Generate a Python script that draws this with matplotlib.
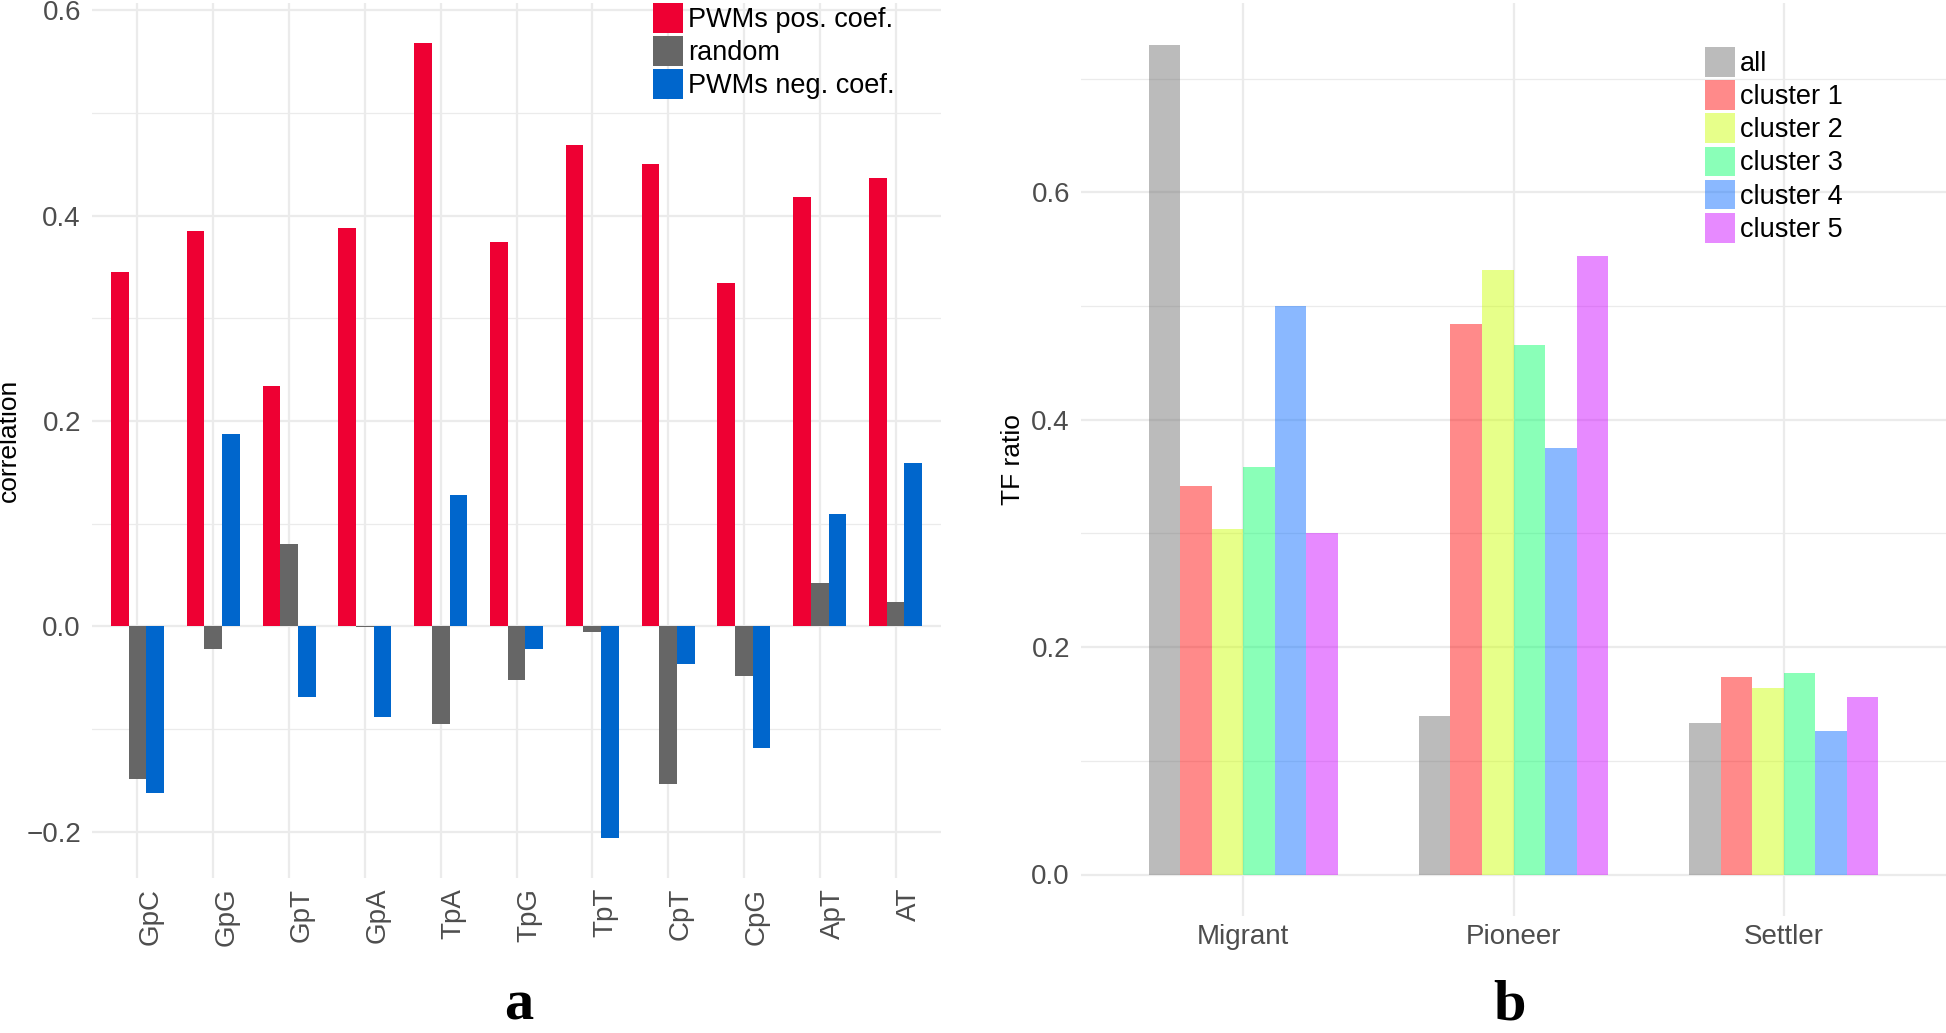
import numpy as np
import matplotlib
matplotlib.use('Agg')
import matplotlib.pyplot as plt
from matplotlib.ticker import MultipleLocator
from matplotlib.patches import Patch

plt.rcParams['font.family'] = ['Liberation Sans', 'DejaVu Sans']

# panel a: correlation per dinucleotide
dinucs = ['GpC', 'GpG', 'GpT', 'GpA', 'TpA', 'TpG', 'TpT', 'CpT', 'CpG', 'ApT', 'AT']
pos_coef = [0.345, 0.385, 0.234, 0.388, 0.568, 0.374, 0.469, 0.450, 0.334, 0.418, 0.437]
rand_coef = [-0.149, -0.022, 0.080, -0.001, -0.095, -0.052, -0.005, -0.153, -0.048, 0.042, 0.024]
neg_coef = [-0.162, 0.187, -0.069, -0.088, 0.128, -0.022, -0.206, -0.037, -0.118, 0.109, 0.159]
series_a = ['PWMs pos. coef.', 'random', 'PWMs neg. coef.']
colors_a = ['#EE0033', '#666666', '#0066CC']

# panel b: TF ratio per group
groups = ['Migrant', 'Pioneer', 'Settler']
series_b = ['all', 'cluster 1', 'cluster 2', 'cluster 3', 'cluster 4', 'cluster 5']
tf_all = [0.730, 0.139, 0.133]
tf_c1 = [0.342, 0.484, 0.174]
tf_c2 = [0.304, 0.532, 0.164]
tf_c3 = [0.358, 0.466, 0.177]
tf_c4 = [0.500, 0.375, 0.126]
tf_c5 = [0.300, 0.544, 0.156]
colors_b = ['#6B6B6B', '#FF0000', '#CCFF00', '#00FF66', '#0066FF', '#CC00FF']
alpha_b = 0.46

fig = plt.figure(figsize=(19.46, 10.33), dpi=100)
W, H = 1946, 1033
ax1 = fig.add_axes([92 / W, (H - 878) / H, 849 / W, 875 / H])
ax2 = fig.add_axes([1081 / W, (H - 916) / H, 865 / W, 913 / H])

grid_col = '#EBEBEB'
tick_col = '#4D4D4D'


def style(ax):
    for s in ax.spines.values():
        s.set_visible(False)
    ax.set_axisbelow(True)
    ax.yaxis.set_minor_locator(MultipleLocator(0.1))
    ax.yaxis.set_major_locator(MultipleLocator(0.2))
    ax.grid(True, which='major', color=grid_col, linewidth=1.6)
    ax.grid(True, which='minor', axis='y', color=grid_col, linewidth=0.9)
    ax.tick_params(which='both', length=0, colors=tick_col, labelsize=20)
    ax.tick_params(axis='y', pad=8)


def add_legend(ax, colors, labels, left, top, alpha=1.0):
    handles = [Patch(facecolor=c, alpha=alpha, label=l, linewidth=0) for c, l in zip(colors, labels)]
    ax.legend(handles=handles, loc='upper left', bbox_to_anchor=(left / W, 1 - top / H),
              bbox_transform=fig.transFigure, frameon=False, fontsize=19.5,
              borderpad=0, borderaxespad=0, handlelength=1.1, handleheight=1.3,
              handletextpad=0.2, labelspacing=0.125)


# panel a
x = np.arange(len(dinucs))
bw = 0.7 / 3
for k, (vals, lab, col) in enumerate(zip([pos_coef, rand_coef, neg_coef], series_a, colors_a)):
    ax1.bar(x + (k - 1) * bw, vals, width=bw, color=col, label=lab, zorder=2)
style(ax1)
ax1.set_xlim(-0.6, len(dinucs) - 0.4)
ax1.set_ylim(-0.245, 0.607)
ax1.set_xticks(x)
ax1.set_xticklabels(dinucs, rotation=90, ha='left', va='top')
ax1.tick_params(axis='x', pad=7)
ax1.set_yticks([-0.2, 0.0, 0.2, 0.4, 0.6])
ax1.set_yticklabels(['\u22120.2', '0.0', '0.2', '0.4', '0.6'])
ax1.set_ylabel('correlation', fontsize=19, color='black')
ax1.yaxis.set_label_coords(-0.084, 0.5)
add_legend(ax1, colors_a, series_a, 653, 3)

# panel b
g = np.arange(len(groups))
bw2 = 0.7 / 6
for k, (vals, lab, col) in enumerate(zip([tf_all, tf_c1, tf_c2, tf_c3, tf_c4, tf_c5], series_b, colors_b)):
    ax2.bar(g + (k - 2.5) * bw2, vals, width=bw2, color=col, alpha=alpha_b, label=lab, zorder=2,
            linewidth=0)
style(ax2)
ax2.set_xlim(-0.6, len(groups) - 0.4)
ax2.set_ylim(-0.0365, 0.7665)
ax2.set_xticks(g)
ax2.set_xticklabels(groups)
ax2.tick_params(axis='x', pad=6)
ax2.set_yticks([0.0, 0.2, 0.4, 0.6])
ax2.set_ylabel('TF ratio', fontsize=19, color='black')
ax2.yaxis.set_label_coords(-0.065, 0.5)
add_legend(ax2, colors_b, series_b, 1705, 47, alpha=alpha_b)

fig.text(519 / W, 1 - 1032 / H, 'a', ha='center', va='bottom', fontsize=42,
         fontweight='bold', family='Liberation Serif')
fig.text(1510 / W, 1 - 1032 / H, 'b', ha='center', va='bottom', fontsize=42,
         fontweight='bold', family='Liberation Serif')

fig.savefig('out.png', dpi=100)
